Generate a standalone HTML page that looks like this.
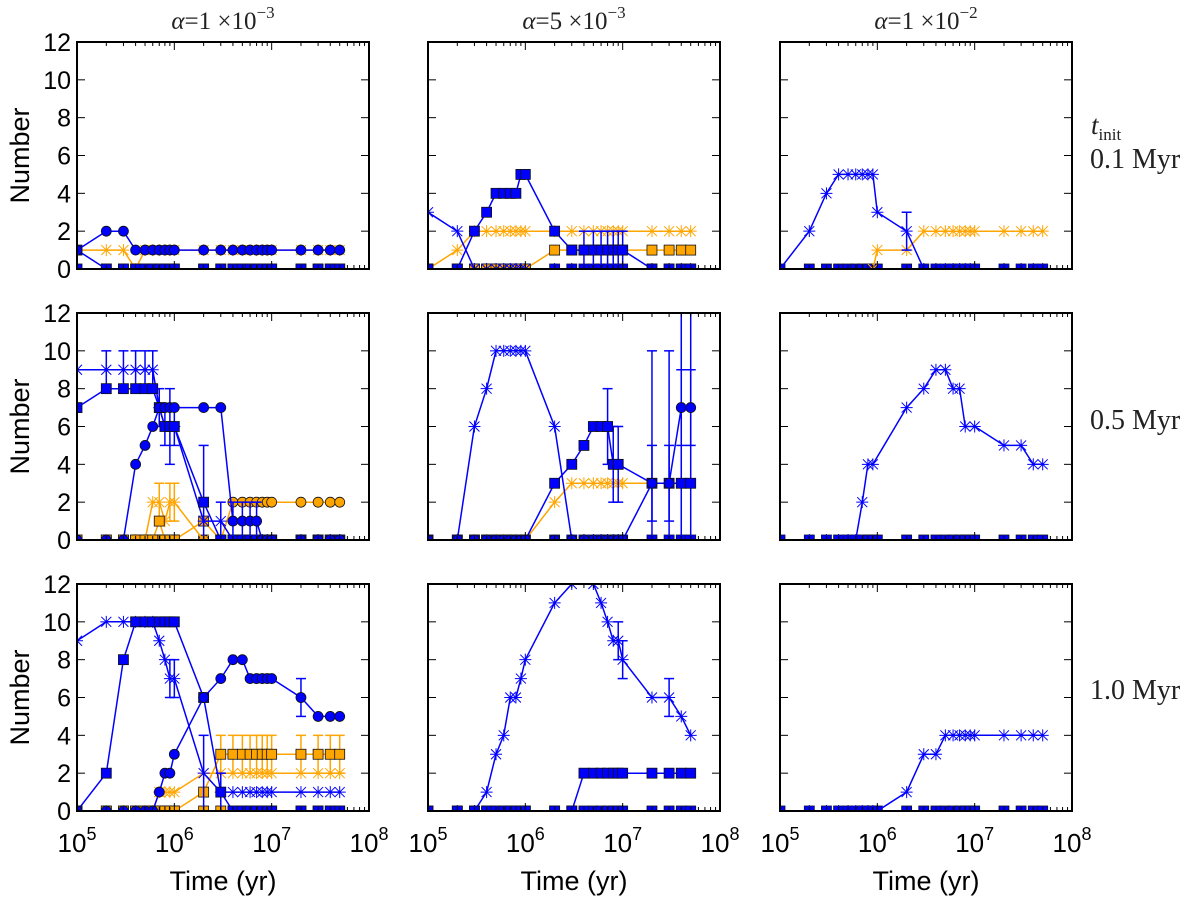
<!DOCTYPE html>
<html><head><meta charset="utf-8"><style>
html,body{margin:0;padding:0;background:#fff;}
svg{display:block;}
text{font-family:"Liberation Sans",sans-serif;}
.serif{font-family:"Liberation Serif",serif;}
</style></head><body>
<svg id="fig" width="1200" height="902" viewBox="0 0 1200 902" xmlns="http://www.w3.org/2000/svg"></svg>
<script>
// shared time categories (yr)
const T = [1e5,2e5,3e5,4e5,5e5,6e5,7e5,8e5,9e5,1e6,2e6,3e6,4e6,5e6,6e6,7e6,8e6,9e6,1e7,2e7,3e7,4e7,5e7];
const yTicks = [0,2,4,6,8,10,12];
const xTickExps = [5,6,7,8];
const colTitles = ["1","5","1"];
const colExps = ["\u22123","\u22123","\u22122"];
const rowLabels = ["0.1 Myr","0.5 Myr","1.0 Myr"];
const Z = [0,0,0,0,0,0,0,0,0,0,0,0,0,0,0,0,0,0,0,0,0,0,0];
// panel r1c1
const p11_bcirc = [1,2,2,1,1,1,1,1,1,1,1,1,1,1,1,1,1,1,1,1,1,1,1];
const p11_bsq   = [1,0,0,0,0,0,0,0,0,0,0,0,0,0,0,0,0,0,0,0,0,0,0];
const p11_ox    = [1,1,1,0,1,1,1,1,1,1,1,1,1,1,1,1,1,1,1,1,1,1,1];
// panel r1c2
const p12_bx  = [3,2,0,0,0,0,0,0,0,0,0,0,0,0,0,0,0,0,0,0,0,0,0];
const p12_bsq = [0,0,2,3,4,4,4,4,5,5,2,1,1,1,1,1,1,1,1,0,0,0,0];
const p12_bsqErr = [0,0,0,0,0,0,0,0,0,0,0,0,1,1,1,1,1,1,1,0,0,0,0];
const p12_ox  = [0,1,2,2,2,2,2,2,2,2,2,2,2,2,2,2,2,2,2,2,2,2,2];
const p12_osq = [0,0,0,0,0,0,0,0,0,0,1,1,1,1,1,1,1,1,1,1,1,1,1];
// panel r1c3
const p13_bx  = [0,2,4,5,5,5,5,5,5,3,2,0,0,0,0,0,0,0,0,0,0,0,0];
const p13_bxErr = [0,0,0,0,0,0,0,0,0,0,1,0,0,0,0,0,0,0,0,0,0,0,0];
const p13_ox  = [null,null,null,null,null,null,null,null,0,1,1,2,2,2,2,2,2,2,2,2,2,2,2];
// panel r2c1
const p21_bx  = [9,9,9,9,9,9,7,6,6,6,1,1,0,0,0,0,0,0,0,0,0,0,0];
const p21_bxErr = [0,1,1,1,1,1,1,1,2,1,0,1,0,0,0,0,0,0,0,0,0,0,0];
const p21_bsq = [7,8,8,8,8,8,7,6,6,6,2,0,0,0,0,0,0,0,0,0,0,0,0];
const p21_bsqErr = [0,0,0,0,0,0,0,0,0,0,3,0,0,0,0,0,0,0,0,0,0,0,0];
const p21_bcirc = [0,0,0,4,5,6,7,7,7,7,7,7,1,1,1,1,0,0,0,0,0,0,0];
const p21_bcircErr = [0,0,0,0,0,0,0,0,0,0,0,0,1,1,1,1,0,0,0,0,0,0,0];
const p21_ox  = [0,0,0,0,0,2,2,1,2,2,0,0,0,0,0,0,0,0,0,0,0,0,0];
const p21_oxErr = [0,0,0,0,0,0,1,0,1,1,0,0,0,0,0,0,0,0,0,0,0,0,0];
const p21_osq = [0,0,0,0,0,0,1,0,0,0,1,0,0,0,0,0,0,0,0,0,0,0,0];
const p21_ocirc = [0,0,0,0,0,0,0,0,0,0,0,0,2,2,2,2,2,2,2,2,2,2,2];
// panel r2c2
const p22_bx  = [0,0,6,8,10,10,10,10,10,10,6,0,0,0,0,0,0,0,0,0,0,0,0];
const p22_bsq = [0,0,0,0,0,0,0,0,0,0,3,4,5,6,6,6,4,4,null,3,3,3,3];
const p22_bsqErr = [0,0,0,0,0,0,0,0,0,0,0,0,0,0,0,2,2,2,0,7,7,9,9];
const p22_bcirc = [0,0,0,0,0,0,0,0,0,0,0,0,0,0,0,0,0,0,0,3,3,7,7];
const p22_bcircErr = [0,0,0,0,0,0,0,0,0,0,0,0,0,0,0,0,0,0,0,2,2,2,2];
const p22_ox  = [0,0,0,0,0,0,0,0,0,0,2,3,3,3,3,3,3,3,3,3,null,null,null];
// panel r2c3
const p23_bx  = [0,0,0,0,0,0,2,4,4,null,7,8,9,9,8,8,6,null,6,5,5,4,4];
// panel r3c1
const p31_bx  = [9,10,10,10,10,10,9,8,7,7,2,1,1,1,1,1,1,1,1,1,1,1,1];
const p31_bxErr = [0,0,0,0,0,0,0,0,1,1,2,0,0,0,0,0,0,0,0,0,0,0,0];
const p31_bsq = [0,2,8,10,10,10,10,10,10,10,6,1,0,0,0,0,0,0,0,0,0,0,0];
const p31_bsqErr = [0,0,0,0,0,0,0,0,0,0,0,1,0,0,0,0,0,0,0,0,0,0,0];
const p31_bcirc = [0,0,0,0,0,0,1,2,2,3,6,7,8,8,7,7,7,7,7,6,5,5,5];
const p31_bcircErr = [0,0,0,0,0,0,0,0,0,0,0,0,0,0,0,0,0,0,0,1,0,0,0];
const p31_ox  = [0,0,0,0,0,0,1,1,1,1,2,2,2,2,2,2,2,2,2,2,2,2,2];
const p31_osq = [0,0,0,0,0,0,0,0,0,0,1,3,3,3,3,3,3,3,3,3,3,3,3];
const p31_osqErr = [0,0,0,0,0,0,0,0,0,0,0,1,1,1,1,1,1,1,1,1,1,1,1];
// panel r3c2
const p32_bx  = [0,0,0,1,3,4,6,6,7,8,11,12,13,12,11,10,9,9,8,6,6,5,4];
const p32_bxErr = [0,0,0,0,0,0,0,0,0,0,0,0,0,0,0,0,0,1,1,0,1,0,0];
const p32_bsq = [0,0,0,0,0,0,0,0,0,0,0,0,2,2,2,2,2,2,2,2,2,2,2];
// panel r3c3
const p33_bx  = [0,0,0,0,0,0,0,0,0,0,1,3,3,4,4,4,4,4,4,4,4,4,4];

const BLUE="#0000ff", ORANGE="#ffa500";
const panels = [
 {r:0,c:0,series:[{v:Z,m:"sq",col:BLUE,n:"zero"},{v:p11_ox,m:"x",col:ORANGE,n:"orange-cross"},{v:p11_bsq,m:"sq",col:BLUE,n:"blue-square"},{v:p11_bcirc,m:"o",col:BLUE,n:"blue-circle"}]},
 {r:0,c:1,series:[{v:Z,m:"sq",col:BLUE,n:"zero"},{v:p12_ox,m:"x",col:ORANGE,n:"orange-cross"},{v:p12_osq,m:"sq",col:ORANGE,n:"orange-square"},{v:p12_bx,m:"x",col:BLUE,n:"blue-cross"},{v:p12_bsq,m:"sq",col:BLUE,e:p12_bsqErr,n:"blue-square"}]},
 {r:0,c:2,series:[{v:Z,m:"sq",col:BLUE,n:"zero"},{v:p13_ox,m:"x",col:ORANGE,n:"orange-cross"},{v:p13_bx,m:"x",col:BLUE,e:p13_bxErr,n:"blue-cross"}]},
 {r:1,c:0,series:[{v:Z,m:"sq",col:BLUE,n:"zero"},{v:p21_ocirc,m:"o",col:ORANGE,n:"orange-circle"},{v:p21_ox,m:"x",col:ORANGE,e:p21_oxErr,n:"orange-cross"},{v:p21_osq,m:"sq",col:ORANGE,n:"orange-square"},{v:p21_bx,m:"x",col:BLUE,e:p21_bxErr,n:"blue-cross"},{v:p21_bsq,m:"sq",col:BLUE,e:p21_bsqErr,n:"blue-square"},{v:p21_bcirc,m:"o",col:BLUE,e:p21_bcircErr,n:"blue-circle"}]},
 {r:1,c:1,series:[{v:Z,m:"sq",col:BLUE,n:"zero"},{v:p22_ox,m:"x",col:ORANGE,n:"orange-cross"},{v:p22_bx,m:"x",col:BLUE,n:"blue-cross"},{v:p22_bsq,m:"sq",col:BLUE,e:p22_bsqErr,n:"blue-square"},{v:p22_bcirc,m:"o",col:BLUE,e:p22_bcircErr,n:"blue-circle"}]},
 {r:1,c:2,series:[{v:Z,m:"sq",col:BLUE,n:"zero"},{v:p23_bx,m:"x",col:BLUE,n:"blue-cross"}]},
 {r:2,c:0,series:[{v:Z,m:"sq",col:ORANGE,n:"zero"},{v:p31_ox,m:"x",col:ORANGE,n:"orange-cross"},{v:p31_osq,m:"sq",col:ORANGE,e:p31_osqErr,n:"orange-square"},{v:p31_bx,m:"x",col:BLUE,e:p31_bxErr,n:"blue-cross"},{v:p31_bsq,m:"sq",col:BLUE,e:p31_bsqErr,n:"blue-square"},{v:p31_bcirc,m:"o",col:BLUE,e:p31_bcircErr,n:"blue-circle"}]},
 {r:2,c:1,series:[{v:Z,m:"sq",col:BLUE,n:"zero"},{v:p32_bx,m:"x",col:BLUE,e:p32_bxErr,n:"blue-cross"},{v:p32_bsq,m:"sq",col:BLUE,n:"blue-square"}]},
 {r:2,c:2,series:[{v:Z,m:"sq",col:BLUE,n:"zero"},{v:p33_bx,m:"x",col:BLUE,n:"blue-cross"}]}
];

const NS="http://www.w3.org/2000/svg";
const svg=document.getElementById('fig');
const colL=[77,428,780], rowT=[42,313,584], W=292, H=227;
const rowBase=[168,429,699];
function el(tag,attrs,parent){const e=document.createElementNS(NS,tag);for(const k in attrs)e.setAttribute(k,attrs[k]);(parent||svg).appendChild(e);return e;}

panels.forEach((p,pi)=>{
  const x0=colL[p.c], y0=rowT[p.r];
  const X=t=>x0+(Math.log10(t)-5)/3*W;
  const Y=v=>y0+H-v/12*H;
  const g=el('g',{});
  
  
  const cp=el('clipPath',{id:'cp'+pi},g);
  el('rect',{x:x0,y:y0,width:W,height:H},cp);
  const plot=el('g',{'clip-path':'url(#cp'+pi+')'},g);
  p.series.forEach(s=>{
    const sg=el('g',{},plot);
    
    
    let d='';
    s.v.forEach((v,i)=>{ if(v===null){return;} d+=(d?'L':'M')+X(T[i]).toFixed(1)+','+Y(v).toFixed(1); });
    if(s.n!=='zero') el('path',{d:d,fill:'none',stroke:s.col,'stroke-width':1.5},sg);
    if(s.e){s.v.forEach((v,i)=>{const e=s.e[i];if(v===null||!e)return;const x=X(T[i]);
      el('line',{x1:x,x2:x,y1:Y(v-e),y2:Y(v+e),stroke:s.col,'stroke-width':1.5},sg);
      el('line',{x1:x-5,x2:x+5,y1:Y(v-e),y2:Y(v-e),stroke:s.col,'stroke-width':1.5},sg);
      el('line',{x1:x-5,x2:x+5,y1:Y(v+e),y2:Y(v+e),stroke:s.col,'stroke-width':1.5},sg);});}
    s.v.forEach((v,i)=>{ if(v===null)return; const x=X(T[i]),y=Y(v);
      let mk;
      if(s.m==='sq'){mk=el('rect',{x:x-5,y:y-5,width:10,height:10,fill:s.col,stroke:'#111','stroke-width':0.8},sg);}
      else if(s.m==='o'){mk=el('circle',{cx:x,cy:y,r:5,fill:s.col,stroke:'#111','stroke-width':0.8},sg);}
      else {mk=el('path',{d:`M${x-5},${y-5}L${x+5},${y+5}M${x-5},${y+5}L${x+5},${y-5}M${x-6},${y}L${x+6},${y}M${x},${y-6}L${x},${y+6}`,stroke:s.col,'stroke-width':1,fill:'none'},sg);}
      
      
    });
  });
  const fr=el('rect',{x:x0,y:y0,width:W,height:H,fill:'none',stroke:'#000','stroke-width':2},g);
  
  
  yTicks.forEach(v=>{const y=Y(v);
    el('line',{x1:x0,x2:x0+8,y1:y,y2:y,stroke:'#000','stroke-width':1},g);
    el('line',{x1:x0+W-8,x2:x0+W,y1:y,y2:y,stroke:'#000','stroke-width':1},g);
    if(p.c===0){const t=el('text',{x:x0-6,y:y+9,'text-anchor':'end','font-size':25,fill:'#000'},g);t.textContent=v;
      
      }
  });
  for(let e=5;e<8;e++){for(let m=1;m<10;m++){const x=X(m*Math.pow(10,e));const L=m===1?8:4;
    el('line',{x1:x,x2:x,y1:y0+H,y2:y0+H-L,stroke:'#000','stroke-width':1},g);
    el('line',{x1:x,x2:x,y1:y0,y2:y0+L,stroke:'#000','stroke-width':1},g);}}
  if(p.r===2){
    xTickExps.forEach(ex=>{const x=X(Math.pow(10,ex));
      const t=el('text',{x:x,y:y0+H+41,'text-anchor':'middle','font-size':26,fill:'#000'},g);
      t.textContent='10';
      const s=el('tspan',{dy:-12,'font-size':18},t);s.textContent=String(ex);
      
      });
    const xl=el('text',{x:x0+W/2,y:y0+H+79,'text-anchor':'middle','font-size':27,fill:'#000'},g);
    xl.textContent='Time (yr)';
    
    
  }
  if(p.c===0){
    const yl=el('text',{x:0,y:0,transform:`translate(29,${y0+H/2}) rotate(-90)`,'text-anchor':'middle','font-size':27,fill:'#000'},g);
    yl.textContent='Number';
    
    
  }
  if(p.r===0){
    const tt=el('text',{x:x0+W/2,y:29,'text-anchor':'middle','font-size':25,fill:'#222',class:'serif'},g);
    const a=el('tspan',{'font-style':'italic'},tt);a.textContent='\u03B1';
    const b=el('tspan',{},tt);b.textContent='=' + colTitles[p.c]+' \u00D710';
    const c=el('tspan',{dy:-11,'font-size':17},tt);c.textContent=colExps[p.c];
    
    
  }
  if(p.c===2){
    const rl=el('text',{x:1090,y:rowBase[p.r],'font-size':28,fill:'#222',class:'serif'},g);
    rl.textContent=rowLabels[p.r];
    
    
    if(p.r===0){
      const ti=el('text',{x:1091,y:134,'font-size':27,fill:'#222',class:'serif'},g);
      const i1=el('tspan',{'font-style':'italic'},ti);i1.textContent='t';
      const i2=el('tspan',{dy:6,'font-size':17},ti);i2.textContent='init';
      
      
    }
  }
});
</script>
</body></html>
